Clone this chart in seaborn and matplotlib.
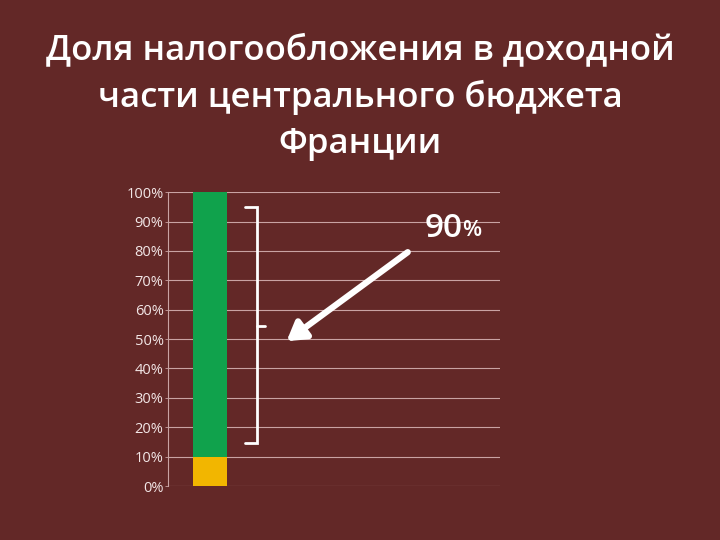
import matplotlib
matplotlib.use("Agg")
import matplotlib.pyplot as plt
import pandas as pd
import seaborn as sns
from matplotlib.ticker import FuncFormatter

TITLE = "Доля налогообложения в доходной\nчасти центрального бюджета\nФранции"
CATEGORY = ["Франция"]
TAX_SHARE = [90]     # налоги, %
OTHER_SHARE = [10]   # прочие доходы, %
YTICKS = list(range(0, 101, 10))

BG = "#632827"
GREEN = "#10A24C"
YELLOW = "#F2B600"

sns.set_theme(style="white")
plt.rcParams["font.family"] = ["Open Sans", "DejaVu Sans"]

df = pd.DataFrame({
    "cat": CATEGORY,
    "other": OTHER_SHARE,
    "total": [o + t for o, t in zip(OTHER_SHARE, TAX_SHARE)],
})

fig = plt.figure(figsize=(7.2, 5.4), dpi=100, facecolor=BG)
ax = fig.add_axes([0.233, 0.1, 0.461, 0.544])
ax.set_facecolor(BG)

# stacked bar: total (green) drawn first, bottom part (yellow) on top
sns.barplot(data=df, x="cat", y="total", color=GREEN, width=0.8,
            saturation=1, linewidth=0, ax=ax, zorder=3)
sns.barplot(data=df, x="cat", y="other", color=YELLOW, width=0.8,
            saturation=1, linewidth=0, ax=ax, zorder=3)

ax.set_xlim(-0.988, 6.82)
ax.set_ylim(0, 100)
ax.set_yticks(YTICKS)
ax.yaxis.set_major_formatter(FuncFormatter(lambda v, p: f"{v:.0f}%"))
ax.set_xticks([])
ax.set_xlabel("")
ax.set_ylabel("")
ax.tick_params(axis="y", colors="#c9a3a3", labelcolor="#f2e6e6",
               labelsize=10.5, length=2, width=0.6, left=True, pad=1)
ax.grid(axis="y", color="#c9a3a3", linewidth=0.8, zorder=0)
for side in ["top", "right", "bottom"]:
    ax.spines[side].set_visible(False)
ax.spines["left"].set_color("#c9a3a3")
ax.spines["left"].set_linewidth(0.8)

# bracket around the tax part
tr = ax.transAxes
ax.plot([0.232, 0.268, 0.268, 0.232], [0.949, 0.949, 0.146, 0.146],
        transform=tr, color="white", lw=2, solid_joinstyle="miter",
        clip_on=False, zorder=5)
ax.plot([0.268, 0.292], [0.544, 0.544], transform=tr, color="white", lw=2,
        clip_on=False, zorder=5)

# arrow and label
ax.annotate("", xy=(0.358, 0.493), xytext=(0.723, 0.796),
            xycoords=tr, textcoords=tr,
            arrowprops=dict(arrowstyle="-|>,head_length=0.9,head_width=0.55",
                            color="white", lw=4.5, shrinkA=0, shrinkB=0),
            zorder=6)
ax.text(0.888, 0.877, f"{TAX_SHARE[0]}", transform=tr, color="white",
        fontsize=24, fontweight="semibold", ha="right", va="center")
ax.text(0.888, 0.87, "%", transform=tr, color="white",
        fontsize=16, fontweight="semibold", ha="left", va="center")

fig.text(0.5, 0.82, TITLE, color="white", fontsize=25, fontweight="semibold",
         ha="center", va="center", linespacing=1.45)

fig.savefig("out.png", dpi=100, facecolor=BG)
